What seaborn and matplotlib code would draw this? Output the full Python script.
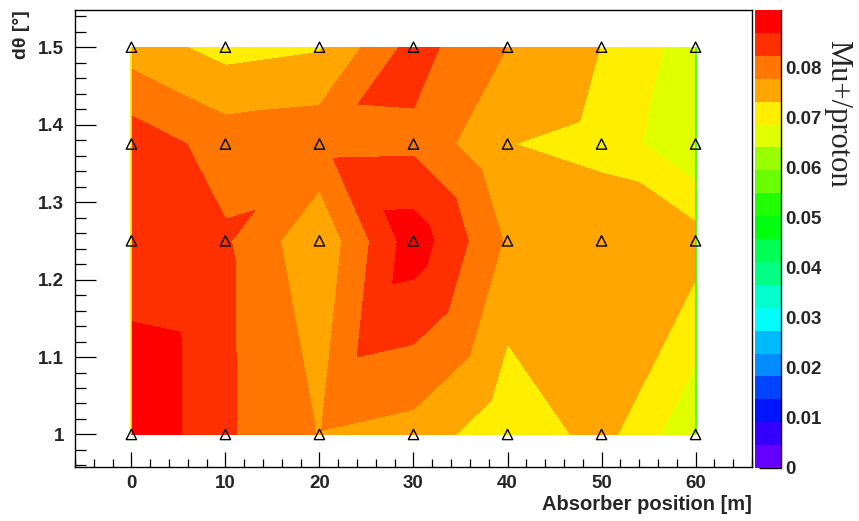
import colorsys

import numpy as np
import pandas as pd
import matplotlib
matplotlib.use("Agg")
import matplotlib.pyplot as plt
import matplotlib.tri as mtri
from matplotlib.ticker import MultipleLocator, AutoMinorLocator, FuncFormatter
import seaborn as sns

# Scan grid: absorber position [m] and angular acceptance dtheta [deg]
absorber_pos = [0, 10, 20, 30, 40, 50, 60]
dtheta = [1.0, 1.25, 1.375, 1.5]

# Mu+/proton yield, one list per dtheta row (ordered like absorber_pos)
yield_dth_1000 = [0.0915, 0.0831, 0.0776, 0.0761, 0.0698, 0.0750, 0.0649]
yield_dth_1250 = [0.0838, 0.0830, 0.0742, 0.0897, 0.0772, 0.0765, 0.0754]
yield_dth_1375 = [0.0852, 0.0805, 0.0812, 0.0814, 0.0734, 0.0719, 0.0646]
yield_dth_1500 = [0.0757, 0.0716, 0.0728, 0.0842, 0.0778, 0.0732, 0.0663]

# Diagonal that splits each grid cell into two triangles, per dtheta band
cell_split = [
    ["/", "\\", "/", "\\", "\\", "/"],
    ["\\", "/", "\\", "/", "\\", "\\"],
    ["\\", "/", "/", "/", "\\", "\\"],
]

# Colour scale
z_min, z_max, n_levels = 0.0, 0.0916, 20
cbar_ticks = [0, 0.01, 0.02, 0.03, 0.04, 0.05, 0.06, 0.07, 0.08]

# ---------------------------------------------------------------------------
rows = [yield_dth_1000, yield_dth_1250, yield_dth_1375, yield_dth_1500]
df = pd.DataFrame(
    [(x, y, z) for y, row in zip(dtheta, rows) for x, z in zip(absorber_pos, row)],
    columns=["pos", "dtheta", "ratio"],
)

nx = len(absorber_pos)
triangles = []
for j, splits in enumerate(cell_split):
    for i, s in enumerate(splits):
        p00 = j * nx + i
        p10 = p00 + 1
        p01 = p00 + nx
        p11 = p01 + 1
        if s == "/":
            triangles += [[p00, p10, p11], [p00, p11, p01]]
        else:
            triangles += [[p00, p10, p01], [p10, p11, p01]]
tri = mtri.Triangulation(df["pos"].to_numpy(), df["dtheta"].to_numpy(), triangles)


def pretty_palette(n_bands, n_colors=50):
    """Violet -> red HLS palette, one colour per contour band."""
    cols = []
    for k in range(n_bands):
        idx = int((k + 0.99) * n_colors / n_bands)
        hue = 0.0 if idx == n_colors - 1 else 280.0 - (idx + 1) * 280.0 / n_colors
        cols.append(colorsys.hls_to_rgb(hue / 360.0, 0.5, 1.0))
    return cols


levels = np.linspace(z_min, z_max, n_levels + 1)
band_colors = pretty_palette(n_levels)

sns.set_theme(style="white")
plt.rcParams["font.family"] = ["Liberation Sans", "DejaVu Sans"]
plt.rcParams["font.weight"] = "bold"

W, H = 859, 521
fig = plt.figure(figsize=(W / 100, H / 100), dpi=100)
ax = fig.add_axes([75 / W, 1 - 467 / H, 677 / W, 457 / H])
cax = fig.add_axes([755 / W, 1 - 468 / H, 26 / W, 458 / H])

cs = ax.tricontourf(tri, df["ratio"], levels=levels, colors=band_colors)

# thin edge strokes along the first and last absorber columns
ax.vlines(absorber_pos[0], dtheta[0], dtheta[-1], color=band_colors[15], lw=1.2, zorder=3)
ax.vlines(absorber_pos[-1], dtheta[0], dtheta[-1], color=(0.2, 1.0, 0.0), lw=1.2, zorder=3)

sns.scatterplot(
    data=df, x="pos", y="dtheta", ax=ax, marker="^", s=55,
    facecolor="none", edgecolor="black", linewidth=1.0, zorder=5,
)

ax.set_xlim(-6, 66)
ax.set_ylim(0.958, 1.548)

ax.xaxis.set_major_locator(MultipleLocator(10))
ax.xaxis.set_minor_locator(AutoMinorLocator(5))
ax.yaxis.set_major_locator(MultipleLocator(0.1))
ax.yaxis.set_minor_locator(AutoMinorLocator(5))
fmt = FuncFormatter(lambda v, p: f"{v:g}")
ax.xaxis.set_major_formatter(fmt)
ax.yaxis.set_major_formatter(fmt)

ax.tick_params(axis="x", which="major", direction="in", length=11, width=0.9,
               labelsize=13.5, pad=6, color="black", bottom=True, top=False)
ax.tick_params(axis="x", which="minor", direction="in", length=5.5, width=0.9,
               bottom=True, top=False, color="black")
ax.tick_params(axis="y", which="major", direction="in", length=15, width=0.9,
               labelsize=13.5, pad=8, color="black", left=True, right=False)
ax.tick_params(axis="y", which="minor", direction="in", length=8, width=0.9,
               left=True, right=False, color="black")
for lab in ax.get_xticklabels() + ax.get_yticklabels():
    lab.set_fontweight("bold")

for sp in ax.spines.values():
    sp.set_visible(True)
    sp.set_color("black")
    sp.set_linewidth(1.0)

ax.set_xlabel("Absorber position [m]", loc="right", fontsize=14.5,
              fontweight="bold", labelpad=2)
ax.set_ylabel("dθ [°]", loc="top", fontsize=14, fontweight="bold", labelpad=6)

cb = fig.colorbar(cs, cax=cax, ticks=cbar_ticks)
cb.outline.set_visible(False)
cax.plot([1, 1], [0, 1], transform=cax.transAxes, color="black", lw=1.0, clip_on=False)
cax.yaxis.set_major_formatter(fmt)
cax.tick_params(axis="y", direction="in", length=16, width=1.0, labelsize=13.5,
                pad=3, color="black", right=True, left=False)
for lab in cax.get_yticklabels():
    lab.set_fontweight("bold")
cax.set_ylim(z_min, z_max)

fig.text(838 / W, 1 - 40 / H, "Mu+/proton", rotation=-90, ha="center", va="top",
         fontsize=22, fontfamily="Liberation Serif", fontweight="normal")

fig.savefig("out.png", dpi=100)
